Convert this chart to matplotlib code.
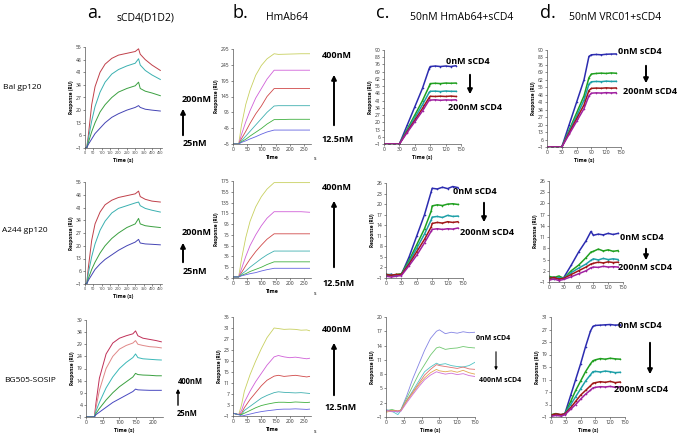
import matplotlib
matplotlib.use("Agg")
import matplotlib.pyplot as plt
from matplotlib.patches import FancyArrowPatch

plt.rcParams['font.family'] = ['Open Sans', 'DejaVu Sans']

W, H = 683, 443

# ---------------- data ----------------
# column a: sCD4(D1D2) titration
a_t = [0, 10, 20, 40, 60, 90, 120, 160, 200, 250, 300, 320, 330, 360, 400, 450]
a1_red = [-1, -1, 6, 23, 33, 41, 45.5, 48.7, 50.5, 51.5, 52.5, 54, 51, 48, 45, 42]
a1_teal = [-1, -1, 4, 14, 22, 30, 35.5, 40, 42.5, 44.5, 46, 48.5, 45, 42, 39.5, 37]
a1_green = [-1, -1, 2, 8, 13, 19, 23, 27, 30, 32, 33.5, 35.5, 32, 30.5, 29.5, 28]
a1_blue = [-1, -1, 1, 4, 7, 10, 13, 16, 18, 20, 21.5, 22.5, 21.5, 20.5, 20, 19.5]

a2_red = [-1, -1, 8, 23, 32, 38.5, 42.5, 45, 46.5, 47.5, 48.5, 50, 47, 45.5, 44.5, 44]
a2_teal = [-1, -1, 5, 14, 21, 28.5, 33.5, 38, 40.5, 42, 43.5, 44, 42, 40.5, 39.5, 38.5]
a2_green = [-1, -1, 2, 7, 11, 16, 20, 24, 27, 30, 32, 35, 32, 31, 30.5, 30]
a2_blue = [-1, -1, 1, 4, 7, 10, 12.5, 15, 17.5, 20, 22, 23.5, 21.5, 21, 20.8, 20.5]

a3_t = [0, 25, 30, 40, 60, 80, 100, 120, 140, 148, 155, 170, 190, 210, 225]
a3_crimson = [-1, -1, 5, 15, 25, 29.5, 31.5, 32.5, 33.3, 34.5, 32.5, 31.5, 31, 30.5, 30]
a3_salmon = [-1, -1, 3, 10, 19, 24, 27, 28.5, 29.5, 30.5, 29, 28.5, 28, 27.8, 27.5]
a3_teal = [-1, -1, 1.5, 5, 11, 15.5, 19, 21.5, 23.5, 25, 23.5, 23, 22.8, 22.6, 22.5]
a3_green = [-1, -1, 0.5, 2.5, 6, 9, 11.5, 13.5, 15.5, 17, 16.5, 16.3, 16.2, 16, 16]
a3_blue = [-1, -1, 0, 1, 3, 5, 6.5, 8, 9.5, 10.5, 10.2, 10.1, 10, 10, 10]

# column b: HmAb64 titration
b_t = [0, 20, 30, 45, 60, 80, 100, 120, 145, 160, 200, 240, 270]
b1_400 = [-5, -5, 55, 120, 165, 212, 243, 264, 280, 278, 279, 280, 280]
b1_200 = [-5, -5, 25, 65, 100, 140, 170, 200, 228, 228, 228, 228, 228]
b1_100 = [-5, -5, 12, 35, 60, 90, 115, 145, 170, 170, 170, 170, 170]
b1_50 = [-5, -5, 5, 20, 35, 55, 75, 95, 115, 116, 116, 116, 116]
b1_25 = [-5, -5, 2, 10, 20, 32, 44, 58, 72, 72, 73, 73, 73]
b1_12 = [-5, -5, 0, 5, 11, 18, 26, 33, 39, 39, 39, 39, 39]

b2_400 = [-3, -3, 30, 70, 100, 127, 146, 160, 172, 172, 172, 172, 172]
b2_200 = [-3, -3, 12, 35, 55, 75, 92, 106, 118, 118, 118, 118, 117]
b2_100 = [-3, -3, 5, 18, 30, 44, 56, 67, 77, 77, 77, 77, 77]
b2_50 = [-3, -3, 2, 8, 15, 23, 31, 38, 45, 45, 45, 45, 45]
b2_25 = [-3, -3, 0, 3, 7, 11, 15, 20, 25, 25, 25, 25, 25]
b2_12 = [-3, -3, -1, 1, 3, 5, 8, 10.5, 13, 13, 13, 13, 13]

b3_t = [0, 20, 30, 40, 60, 80, 100, 120, 145, 160, 180, 200, 220, 240, 260, 270]
b3_400 = [0, -0.5, 3, 8, 14, 19, 23.5, 27.5, 31, 30.8, 30.5, 30.6, 30.5, 30.2, 30.3, 30]
b3_200 = [0, -0.5, 1, 4, 8, 11.5, 14.5, 17.5, 20.5, 21, 20.5, 20.2, 20.4, 20.1, 19.8, 20]
b3_100 = [0, -0.5, 0, 2, 5, 7.5, 10, 12, 13.5, 13.8, 13.4, 13.6, 13.8, 13.5, 13.2, 13.4]
b3_50 = [0, -0.5, -0.5, 1, 2.5, 4, 5.5, 6.5, 7.5, 7.8, 7.6, 7.5, 7.4, 7.5, 7.3, 7.2]
b3_25 = [0, -0.5, -0.5, 0, 1, 2, 2.8, 3.3, 3.8, 4, 4, 3.9, 4.1, 4, 3.9, 4]
b3_12 = [0, -0.5, -1, -0.8, -0.3, 0.2, 0.6, 0.9, 1.2, 1.4, 1.5, 1.5, 1.6, 1.5, 1.4, 1.5]

# column c: 50nM HmAb64 + sCD4
c_t = [0, 10, 20, 30, 45, 60, 75, 88, 90, 100, 110, 120, 130, 140]
c1_0 = [-1, -1, -1, -1, 17, 35, 53, 72, 74, 74.5, 74, 74.5, 74, 74.8]
c1_25 = [-1, -1, -1, -1, 13, 27, 41, 55, 57.5, 57.8, 57.5, 58, 57.8, 58]
c1_50 = [-1, -1, -1, -1, 12, 24.5, 37, 49, 50, 50.2, 49.8, 50.3, 50, 50]
c1_100 = [-1, -1, -1, -1, 11, 22, 33.5, 44, 45.2, 45, 45.3, 45, 45.4, 45]
c1_200 = [-1, -1, -1, -1, 10, 20.5, 31, 41.5, 41.5, 41.8, 41.3, 41.7, 41.5, 41.8]

c2_0 = [-0.3, 0, -0.2, 0, 5, 11, 17, 23.5, 24.5, 24.3, 24.8, 24.4, 25, 24.7]
c2_25 = [0, -0.2, 0, 0.2, 4, 8.5, 13, 18, 19.5, 19.8, 19.6, 20, 20.1, 19.9]
c2_50 = [0, 0, -0.3, 0, 3.5, 7.5, 11.5, 15.5, 16.3, 16.5, 16.2, 16.8, 16.5, 16.6]
c2_100 = [0, -0.2, 0, 0, 3, 6.5, 10, 13.5, 14.5, 14.8, 14.6, 15, 14.8, 15]
c2_200 = [-0.5, -0.7, -0.5, -0.3, 2.5, 5.5, 9, 12.3, 12.8, 13, 12.8, 13, 12.9, 13.2]

c3_t = [0, 10, 20, 25, 35, 45, 55, 65, 75, 85, 90, 100, 110, 120, 130, 140, 150]
c3_0 = [0.5, 0.3, 0, 0.5, 3.5, 7, 10, 13, 15.5, 17, 17.3, 16.5, 16.8, 16.6, 16.9, 16.7, 16.8]
c3_25 = [0.3, 0.6, 0.2, 0.5, 3, 5.5, 8, 10, 12, 13.5, 13.7, 13.2, 13.4, 13.5, 13.8, 13.6, 13.5]
c3_50 = [0.5, 0.2, -0.5, 0.3, 2.5, 4.5, 6.5, 8.5, 9.5, 10.3, 10, 10.2, 9.8, 9.6, 9.5, 9.8, 10.5]
c3_100 = [0.2, 0.4, 0.3, 0.4, 2.5, 4.2, 6, 7.8, 9, 10, 9.8, 9.6, 9.4, 9.2, 9.5, 9.1, 9]
c3_200 = [0, 0.3, 0.2, 0.3, 2.3, 4, 5.7, 7.2, 8.3, 9, 8.7, 8.5, 8.7, 8.4, 8.8, 8.3, 8]
c3_400 = [0.4, 0.1, 0.2, 0.2, 2, 3.7, 5.3, 6.8, 7.8, 8.5, 8.3, 8, 8.2, 7.9, 8.1, 7.7, 7.5]

# column d: 50nM VRC01 + sCD4
d_t = [0, 10, 20, 30, 45, 60, 75, 85, 90, 100, 110, 120, 130, 140]
d1_0 = [-1, -1, -1, -1, 20, 41, 62, 84, 85.5, 85.8, 85.5, 86, 86.2, 86.3]
d1_25 = [-1, -1, -1, -1, 15, 31, 47, 64, 67.5, 68, 68.3, 68, 68.5, 68.2]
d1_50 = [-1, -1, -1, -1, 14, 28, 43, 58, 60.2, 60.5, 60.3, 60.8, 60.5, 60.6]
d1_100 = [-1, -1, -1, -1, 12.5, 25.5, 38.5, 52, 54, 54.3, 54.1, 54.5, 54.2, 54.4]
d1_200 = [-1, -1, -1, -1, 11, 23, 35, 47, 49.5, 49.8, 49.6, 50, 49.7, 50]

d2_0 = [0, 0.3, -0.2, 0.2, 3.5, 7, 10, 12.5, 11.5, 11.8, 11.6, 12, 11.7, 12]
d2_25 = [0.5, 0.2, 0.6, 0, 2, 3.5, 5.5, 7, 7.2, 7.8, 7.3, 7.6, 7.2, 7.4]
d2_50 = [0, -0.3, 0.2, 0, 1.5, 2.7, 3.8, 4.8, 5.2, 4.9, 5.3, 5, 5.2, 5]
d2_100 = [0, 0.2, -0.2, 0, 1, 2, 3, 3.8, 4, 4.3, 4.1, 4.4, 4.2, 4.3]
d2_200 = [-0.5, -0.2, -0.6, -0.3, 0.4, 1.2, 2, 2.8, 3, 2.9, 3.2, 3, 3.1, 3]

d3_t = [0, 10, 20, 28, 40, 50, 60, 70, 80, 85, 90, 100, 110, 120, 130, 140]
d3_0 = [-0.5, 0, -0.3, 0, 6, 11, 16, 21.5, 26.5, 28, 28.3, 28.4, 28.5, 28.6, 28.4, 28.5]
d3_25 = [-0.3, 0.1, -0.5, 0, 4, 7.5, 10.5, 13.5, 16, 17, 17.3, 17.7, 17.5, 17.8, 17.6, 17.5]
d3_50 = [-0.6, -0.2, -0.4, 0, 3, 5.5, 8, 10.5, 12.5, 13.5, 13.6, 13.4, 13.7, 13.5, 13.2, 13.3]
d3_100 = [-0.4, 0, -0.2, 0, 2, 4, 6, 7.5, 9, 9.8, 10, 10.3, 10.1, 10.4, 10, 10.2]
d3_200 = [-0.8, -0.5, -0.7, -0.3, 1.5, 3, 4.7, 6.3, 7.6, 8.3, 8.5, 8.7, 8.6, 8.8, 8.5, 8.7]

# ---------------- colours ----------------
ca = ['#c0404a', '#3ab0b0', '#3aa040', '#4444b4']
ca3 = ['#c03058', '#e08888', '#3ab8b8', '#3aa040', '#4848c0']
cb = ['#c8d060', '#d060d8', '#d04848', '#40b0b0', '#40b040', '#6464e0']
cm = ['#2c2cb0', '#20a020', '#1ea0a8', '#a01818', '#a020a0']
cc3 = ['#8484e4', '#70c870', '#50c4c4', '#e07070', '#e0a850', '#d070d8']

fig = plt.figure(figsize=(W / 100, H / 100), dpi=100)


def make_ax(l, t, r, b):
    return fig.add_axes([l / W, 1 - b / H, (r - l) / W, (b - t) / H])


def style(ax, xlim, xt, ylim, yt, xlabel="Time (s)", xsize=3.6):
    ax.set_xlim(*xlim)
    ax.set_ylim(*ylim)
    ax.set_xticks(xt)
    ax.set_yticks(yt)
    for s in ['top', 'right']:
        ax.spines[s].set_visible(False)
    for s in ['left', 'bottom']:
        ax.spines[s].set_linewidth(0.5)
        ax.spines[s].set_color('#555555')
    ax.tick_params(labelsize=3.6, length=1.5, width=0.4, pad=1, colors='#333333')
    ax.tick_params(axis='x', labelsize=xsize)
    ax.set_ylabel("Response (RU)", fontsize=3.4, fontweight='bold', labelpad=1.5)
    if xlabel:
        ax.set_xlabel(xlabel, fontsize=3.8, fontweight='bold', labelpad=1.5)


def curves(ax, t, ys, colors, lw=0.7, marker=None):
    for y, c in zip(ys, colors):
        if marker:
            ax.plot(t, y, color=c, lw=1.1, marker='.', ms=2.4, mew=0)
        else:
            ax.plot(t, y, color=c, lw=lw)


# column a
ax = make_ax(85, 47, 162, 148)
curves(ax, a_t, [a1_red, a1_teal, a1_green, a1_blue], ca)
style(ax, (0, 460), range(0, 451, 50), (-1, 55), range(-1, 56, 7), xsize=2.7)

ax = make_ax(85, 182, 162, 284)
curves(ax, a_t, [a2_red, a2_teal, a2_green, a2_blue], ca)
style(ax, (0, 460), range(0, 451, 50), (-1, 55), range(-1, 56, 7), xsize=2.7)

ax = make_ax(86, 320, 163, 417)
curves(ax, a3_t, [a3_crimson, a3_salmon, a3_teal, a3_green, a3_blue], ca3)
style(ax, (0, 230), range(0, 201, 50), (-1, 39), range(-1, 40, 5))

# column b
for (t, tp, bt, ys, ylim, yt) in [
        (49, 144, b_t, [b1_400, b1_200, b1_100, b1_50, b1_25, b1_12], (-5, 295), range(-5, 296, 50)),
        (181, 278, b_t, [b2_400, b2_200, b2_100, b2_50, b2_25, b2_12], (-5, 175), range(-5, 176, 20)),
        (317, 416, b3_t, [b3_400, b3_200, b3_100, b3_50, b3_25, b3_12], (-1, 35), range(-1, 36, 4))]:
    ax = make_ax(233, t, 311, tp)
    curves(ax, bt, ys, cb, lw=0.6)
    style(ax, (0, 275), range(0, 251, 50), ylim, yt, xlabel="Time")
    ax.text(1.03, -0.13, "s", transform=ax.transAxes, fontsize=3.8, ha='left', va='top')

# column c
ax = make_ax(384, 50, 461, 144)
curves(ax, c_t, [c1_0, c1_25, c1_50, c1_100, c1_200], cm, marker=True)
style(ax, (0, 150), range(0, 151, 30), (-1, 90), range(-1, 91, 7))

ax = make_ax(386, 183, 463, 278)
curves(ax, c_t, [c2_0, c2_25, c2_50, c2_100, c2_200], cm, marker=True)
style(ax, (0, 150), range(0, 151, 30), (-1, 26), range(-1, 27, 3), xlabel=None)

ax = make_ax(386, 317, 475, 417)
curves(ax, c3_t, [c3_0, c3_25, c3_50, c3_100, c3_200, c3_400], cc3, lw=0.6)
style(ax, (0, 150), range(0, 151, 30), (-1, 20), range(-1, 21, 3))

# column d
ax = make_ax(547, 50, 621, 147)
curves(ax, d_t, [d1_0, d1_25, d1_50, d1_100, d1_200], cm, marker=True)
style(ax, (0, 150), range(0, 151, 30), (-1, 90), range(-1, 91, 7))

ax = make_ax(549, 181, 623, 282)
curves(ax, d_t, [d2_0, d2_25, d2_50, d2_100, d2_200], cm, marker=True)
style(ax, (0, 150), range(0, 151, 30), (-1, 26), range(-1, 27, 3), xlabel=None)

ax = make_ax(551, 317, 625, 417)
curves(ax, d3_t, [d3_0, d3_25, d3_50, d3_100, d3_200], cm, marker=True)
style(ax, (0, 150), range(0, 151, 30), (-1, 31), range(-1, 32, 4))


# ---------------- figure text ----------------
def ftext(x, y, s, size=6.5, weight='bold', ha='center'):
    fig.text(x / W, 1 - y / H, s, fontsize=size, fontweight=weight, ha=ha, va='center')


def farrow(x, y0, y1, lw=1.4, ms=7):
    fig.add_artist(FancyArrowPatch((x / W, 1 - y0 / H), (x / W, 1 - y1 / H),
                                   transform=fig.transFigure, arrowstyle='-|>',
                                   mutation_scale=ms, lw=lw, color='black'))


ftext(95, 13, "a.", size=13, weight='normal')
ftext(145, 18, "sCD4(D1D2)", size=7.5, weight='normal')
ftext(240, 13, "b.", size=13, weight='normal')
ftext(287, 18, "HmAb64", size=7.5, weight='normal')
ftext(383, 13, "c.", size=13, weight='normal')
ftext(462, 18, "50nM HmAb64+sCD4", size=7.5, weight='normal')
ftext(548, 13, "d.", size=13, weight='normal')
ftext(615, 18, "50nM VRC01+sCD4", size=7.5, weight='normal')

ftext(22, 88, "Bal gp120", size=6, weight='normal')
ftext(25, 230, "A244 gp120", size=6, weight='normal')
ftext(30, 381, "BG505-SOSIP", size=6, weight='normal')

# column a labels
ftext(197, 100, "200nM")
farrow(183, 138, 106)
ftext(195, 143, "25nM")
ftext(197, 233, "200nM")
farrow(183, 265, 240)
ftext(195, 271, "25nM")
ftext(190, 381, "400nM", size=5.5)
farrow(178, 408, 386, lw=1.0, ms=5)
ftext(187, 413, "25nM", size=5.5)

# column b labels
ftext(337, 56, "400nM")
farrow(334, 128, 72)
ftext(338, 140, "12.5nM")
ftext(337, 187, "400nM")
farrow(334, 270, 198)
ftext(339, 284, "12.5nM")
ftext(337, 330, "400nM")
farrow(334, 398, 340)
ftext(341, 408, "12.5nM")

# column c labels
ftext(468, 62, "0nM sCD4")
farrow(470, 72, 97)
ftext(475, 108, "200nM sCD4")
ftext(475, 192, "0nM sCD4")
farrow(484, 200, 225)
ftext(487, 233, "200nM sCD4")
ftext(493, 339, "0nM sCD4", size=5)
farrow(496, 349, 373, lw=0.8, ms=4)
ftext(500, 381, "400nM sCD4", size=5)

# column d labels
ftext(640, 52, "0nM sCD4")
farrow(646, 63, 86)
ftext(650, 91, "200nM sCD4")
ftext(642, 237, "0nM sCD4")
farrow(646, 246, 263)
ftext(645, 268, "200nM sCD4")
ftext(640, 326, "0nM sCD4")
farrow(650, 340, 377)
ftext(641, 390, "200nM sCD4")

fig.savefig("out.png", dpi=100)
